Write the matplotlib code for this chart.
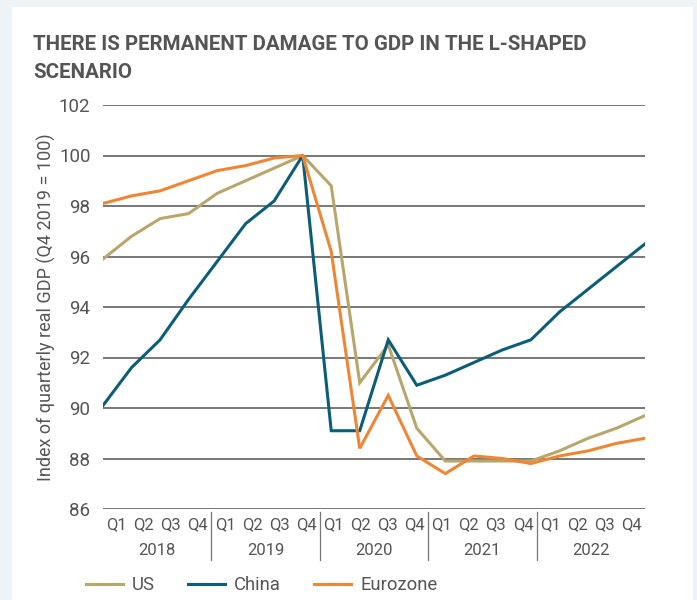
import numpy as np
import matplotlib.pyplot as plt
from matplotlib.patches import Rectangle

# データ (Q1 2018 - Q4 2022, Q4 2019 = 100)
quarters = ["Q1", "Q2", "Q3", "Q4"]
years = ["2018", "2019", "2020", "2021", "2022"]

us = [95.9, 96.8, 97.5, 97.7, 98.5, 99.0, 99.5, 100.0, 98.8, 91.0,
      92.5, 89.2, 87.9, 87.9, 87.9, 87.9, 88.3, 88.8, 89.2, 89.7]
china = [90.1, 91.6, 92.7, 94.3, 95.8, 97.3, 98.2, 100.0, 89.1, 89.1,
         92.7, 90.9, 91.3, 91.8, 92.3, 92.7, 93.8, 94.7, 95.6, 96.5]
eurozone = [98.1, 98.4, 98.6, 99.0, 99.4, 99.6, 99.9, 100.0, 96.2, 88.4,
            90.5, 88.1, 87.4, 88.1, 88.0, 87.8, 88.1, 88.3, 88.6, 88.8]

series = [("US", us, "#b8a66b"), ("China", china, "#0c5d78"), ("Eurozone", eurozone, "#ef8634")]

plt.rcParams['font.family'] = ['Roboto', 'DejaVu Sans']
text_color = "#555555"

fig = plt.figure(figsize=(6.97, 6.0), dpi=100)
fig.patch.set_facecolor("#eef3f7")
# 白いパネル
fig.patches.append(Rectangle((12 / 697, 0), (693 - 12) / 697, 1 - 7 / 600,
                             transform=fig.transFigure, facecolor="white",
                             edgecolor="none", zorder=-10))

ax = fig.add_axes([103 / 697, 1 - 509 / 600, (645 - 103) / 697, (509 - 105) / 600])
ax.set_facecolor("none")
ax.set_zorder(5)

x = np.arange(len(us))
for name, vals, col in series:
    ax.plot(x, vals, color=col, lw=2.2, label=name, zorder=3, solid_joinstyle="miter")

ax.set_xlim(0, len(us) - 1)
ax.set_ylim(86, 102)
ax.set_yticks(np.arange(86, 103, 2))
for yv in np.arange(86, 103, 2):
    ax.axhline(yv, color="#777777", lw=1.4, zorder=1)
for s in ax.spines.values():
    s.set_visible(False)
ax.tick_params(axis="y", length=0, pad=9, labelsize=13.5, labelcolor=text_color)
ax.set_xticks([])

# カテゴリ軸ラベル
n = len(us)
slot = (n - 1) / n
for i in range(n):
    ax.text((i + 0.5) * slot, -0.038, quarters[i % 4], transform=ax.get_xaxis_transform(),
            ha="center", va="center", fontsize=12, color=text_color)
for k, yr in enumerate(years):
    ax.text((4 * k + 2) * slot, -0.102, yr, transform=ax.get_xaxis_transform(),
            ha="center", va="center", fontsize=12, color=text_color)
for k in range(1, len(years)):
    ax.plot([4 * k * slot] * 2, [-0.008, -0.125], transform=ax.get_xaxis_transform(),
            color="#777777", lw=0.9, clip_on=False)

ax.set_ylabel("Index of quarterly real GDP (Q4 2019 = 100)", fontsize=13,
              color=text_color)
ax.yaxis.set_label_coords(-0.086, 0.5)

fig.text(33 / 697, 1 - 44 / 600, "THERE IS PERMANENT DAMAGE TO GDP IN THE L-SHAPED",
         fontsize=14.8, fontweight="bold", color=text_color, va="center", ha="left")
fig.text(33 / 697, 1 - 73 / 600, "SCENARIO",
         fontsize=14.8, fontweight="bold", color=text_color, va="center", ha="left")

leg = fig.legend(loc="center left", bbox_to_anchor=(69 / 697, 1 - 585 / 600), ncol=3,
                 frameon=False, fontsize=13.3, handlelength=2.0, columnspacing=1.8,
                 handletextpad=0.5, labelcolor=text_color)

fig.savefig("out.png", dpi=100, facecolor=fig.get_facecolor())
